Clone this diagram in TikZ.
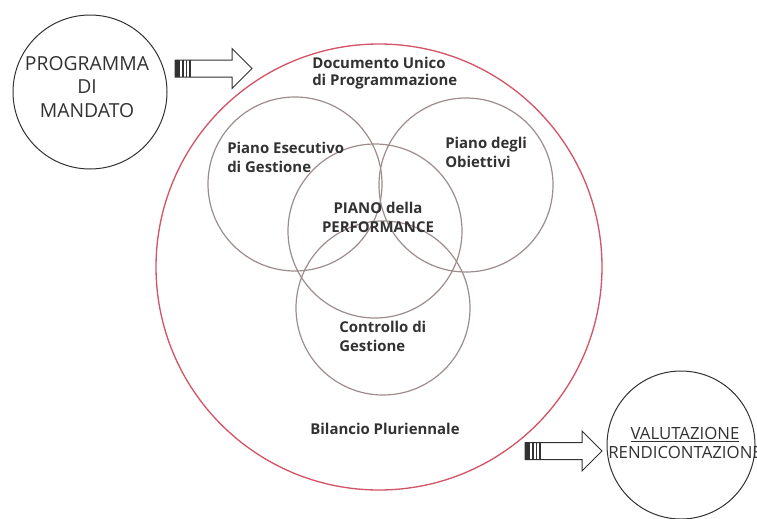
\documentclass[tikz,border=0pt]{standalone}
\usepackage{fontspec}
\setmainfont{Open Sans}
\usetikzlibrary{positioning}
\definecolor{ringred}{RGB}{212,84,104}
\definecolor{ringgray}{RGB}{158,140,140}
\definecolor{inkgray}{RGB}{50,50,50}
\tikzset{
  bigring/.style={circle, draw=inkgray, line width=0.75pt, inner sep=0pt},
  redring/.style={circle, draw=ringred, line width=1pt, inner sep=0pt},
  vennring/.style={circle, draw=ringgray, line width=0.9pt, inner sep=0pt,
    minimum size=130.5pt},
  bigtext/.style={inner sep=0pt, text=inkgray, align=center},
  smalltext/.style={inner sep=0pt, text=inkgray,
    font=\bfseries\fontsize{11.2}{14.25}\selectfont},
  arrowline/.style={draw=inkgray, line width=0.75pt, fill=white},
}
\begin{document}
\begin{tikzpicture}[x=0.75pt, y=-0.75pt]
\useasboundingbox (0,0) rectangle (757,518);
\clip (0,0) rectangle (757,518);
    %outer circles
    \node[bigring, minimum size=115.5pt] (mandato) at (90,92) {};
    \node[bigring, minimum size=111pt] (valut) at (681,445) {};
    \node[redring, minimum size=334.5pt] (dup) at (379,267) {};
    %venn circles
    \node[vennring] (peg) at (295,184) {};
    \node[vennring] (obiet) at (466,185) {};
    \node[vennring] (perf) at (375,231) {};
    \node[vennring] (contr) at (383,308) {};
    %block arrows
    \foreach \ax/\ay in {175/68.5, 525/451}{
        \draw[arrowline] (\ax,\ay-8.5) -- ++(57,0) -- ++(0,-11.5) -- ++(20,20)
            -- ++(-20,20) -- ++(0,-11.5) -- ++(-57,0) -- cycle;
        \fill[inkgray] (\ax,\ay-8.5) rectangle (\ax+5,\ay+8.5);
        \foreach \s in {8,11.5,15}
            \draw[inkgray, line width=0.9pt] (\ax+\s,\ay-8.5) -- (\ax+\s,\ay+8.5);
    }
    %labels
    \node[bigtext, font=\fontsize{14.5}{17.6}\selectfont] (mandatotxt)
        at (87,87) {PROGRAMMA\\DI\\MANDATO};
    \node[bigtext, font=\fontsize{12.6}{14.25}\selectfont] (valuttxt)
        at (685,442.5) {\underline{VALUTAZIONE}\\RENDICONTAZIONE};
    \node[smalltext, align=left, anchor=west,
        font=\bfseries\fontsize{11.2}{12.75}\selectfont] (duptxt)
        at (312,73.5) {Documento Unico\\di Programmazione};
    \node[smalltext, align=left, anchor=west] (pegtxt)
        at (227,157.5) {Piano Esecutivo\\di Gestione};
    \node[smalltext, align=left, anchor=west] (obiettxt)
        at (445,152) {Piano degli\\Obiettivi};
    \node[smalltext, align=center] (perftxt)
        at (378,217.5) {PIANO della\\PERFORMANCE};
    \node[smalltext, align=left, anchor=west] (contrtxt)
        at (339,336.5) {Controllo di\\Gestione};
    \node[smalltext] (biltxt) at (385,429) {Bilancio Pluriennale};
\end{tikzpicture}
\end{document}
